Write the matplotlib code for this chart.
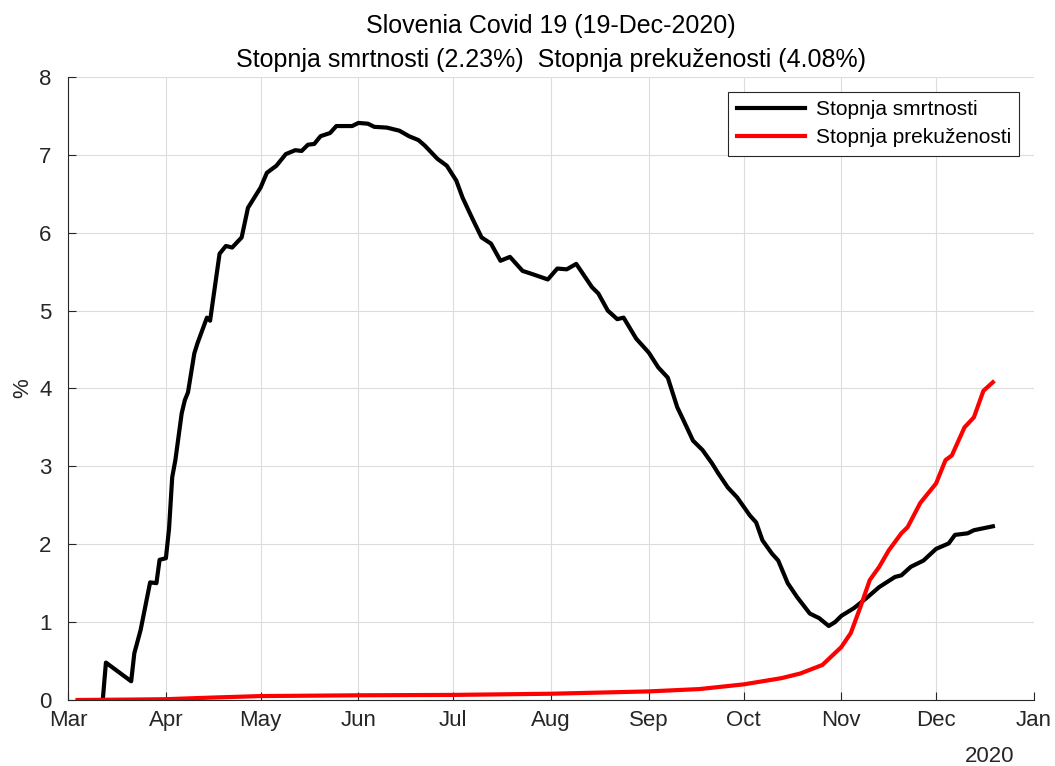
import numpy as np
import pandas as pd
import matplotlib
matplotlib.use('Agg')
import matplotlib.pyplot as plt
import matplotlib.dates as mdates
import matplotlib.transforms as mtransforms

plt.rcParams['font.family'] = ['Liberation Sans', 'DejaVu Sans']

# stopnja smrtnosti (deaths / cases, %)
mort_dates = ['2020-03-12', '2020-03-13', '2020-03-21', '2020-03-22', '2020-03-24',
              '2020-03-27', '2020-03-29', '2020-03-30', '2020-04-01', '2020-04-02',
              '2020-04-03', '2020-04-04', '2020-04-06', '2020-04-07', '2020-04-08',
              '2020-04-10', '2020-04-11', '2020-04-14', '2020-04-15', '2020-04-18',
              '2020-04-20', '2020-04-22', '2020-04-25', '2020-04-27', '2020-05-01',
              '2020-05-03', '2020-05-06', '2020-05-09', '2020-05-12', '2020-05-14',
              '2020-05-16', '2020-05-18', '2020-05-20', '2020-05-23', '2020-05-25',
              '2020-05-30', '2020-06-01', '2020-06-04', '2020-06-06', '2020-06-10',
              '2020-06-14', '2020-06-17', '2020-06-20', '2020-06-22', '2020-06-26',
              '2020-06-29', '2020-07-02', '2020-07-04', '2020-07-07', '2020-07-10',
              '2020-07-13', '2020-07-16', '2020-07-19', '2020-07-23', '2020-07-26',
              '2020-07-31', '2020-08-03', '2020-08-06', '2020-08-09', '2020-08-14',
              '2020-08-16', '2020-08-19', '2020-08-22', '2020-08-24', '2020-08-28',
              '2020-09-01', '2020-09-04', '2020-09-07', '2020-09-10', '2020-09-12',
              '2020-09-15', '2020-09-18', '2020-09-21', '2020-09-23', '2020-09-26',
              '2020-09-29', '2020-10-03', '2020-10-05', '2020-10-07', '2020-10-10',
              '2020-10-12', '2020-10-15', '2020-10-18', '2020-10-22', '2020-10-25',
              '2020-10-28', '2020-10-30', '2020-11-01', '2020-11-05', '2020-11-09',
              '2020-11-13', '2020-11-18', '2020-11-20', '2020-11-23', '2020-11-27',
              '2020-12-01', '2020-12-05', '2020-12-07', '2020-12-11', '2020-12-13',
              '2020-12-19']
mort_vals = [0.0, 0.48, 0.24, 0.60, 0.90,
             1.51, 1.50, 1.80, 1.82, 2.20,
             2.86, 3.08, 3.68, 3.85, 3.95,
             4.45, 4.58, 4.91, 4.87, 5.73,
             5.83, 5.81, 5.94, 6.32, 6.58,
             6.77, 6.86, 7.01, 7.06, 7.05,
             7.13, 7.14, 7.24, 7.28, 7.37,
             7.37, 7.41, 7.40, 7.36, 7.35,
             7.31, 7.24, 7.19, 7.12, 6.95,
             6.86, 6.67, 6.45, 6.19, 5.94,
             5.86, 5.64, 5.69, 5.51, 5.47,
             5.40, 5.54, 5.53, 5.60, 5.30,
             5.22, 5.00, 4.89, 4.91, 4.64,
             4.46, 4.27, 4.14, 3.76, 3.59,
             3.33, 3.21, 3.04, 2.91, 2.73,
             2.60, 2.37, 2.28, 2.05, 1.88,
             1.79, 1.50, 1.32, 1.11, 1.05,
             0.95, 1.00, 1.08, 1.18, 1.31,
             1.45, 1.58, 1.60, 1.71, 1.79,
             1.94, 2.01, 2.12, 2.14, 2.18,
             2.23]

# stopnja prekuzenosti (cases / population, %)
inf_dates = ['2020-03-04', '2020-03-20', '2020-04-01', '2020-04-15', '2020-05-01',
             '2020-06-01', '2020-07-01', '2020-08-01', '2020-09-01', '2020-09-17',
             '2020-10-01', '2020-10-13', '2020-10-19', '2020-10-26', '2020-11-01',
             '2020-11-04', '2020-11-07', '2020-11-10', '2020-11-13', '2020-11-16',
             '2020-11-20', '2020-11-22', '2020-11-26', '2020-11-28', '2020-12-01',
             '2020-12-04', '2020-12-06', '2020-12-10', '2020-12-13', '2020-12-16',
             '2020-12-19']
inf_vals = [0.0, 0.005, 0.01, 0.03, 0.05,
            0.06, 0.065, 0.08, 0.11, 0.14,
            0.20, 0.28, 0.34, 0.45, 0.68,
            0.86, 1.19, 1.54, 1.71, 1.92,
            2.14, 2.22, 2.53, 2.63, 2.78,
            3.08, 3.14, 3.50, 3.63, 3.97,
            4.08]

month_ticks = ['2020-03-01', '2020-04-01', '2020-05-01', '2020-06-01', '2020-07-01',
               '2020-08-01', '2020-09-01', '2020-10-01', '2020-11-01', '2020-12-01',
               '2021-01-01']

axc = '#262626'

fig = plt.figure(figsize=(10.55, 7.66), dpi=100)
ax = fig.add_axes([0.0645, 0.0862, 0.9155, 0.8133])

ax.plot(pd.to_datetime(mort_dates), mort_vals, color='black', lw=3,
        label='Stopnja smrtnosti')
ax.plot(pd.to_datetime(inf_dates), inf_vals, color='red', lw=3,
        label='Stopnja prekuženosti')

ticks = pd.to_datetime(month_ticks)
ax.set_xlim(ticks[0], ticks[-1])
ax.set_ylim(0, 8)
ax.set_xticks(ticks)
ax.xaxis.set_major_formatter(mdates.DateFormatter('%b'))
ax.set_yticks(range(0, 9))

ax.grid(True, color='#dcdcdc', lw=0.8)
ax.set_axisbelow(True)
for s in ['top', 'right']:
    ax.spines[s].set_visible(False)
for s in ['left', 'bottom']:
    ax.spines[s].set_color(axc)
    ax.spines[s].set_linewidth(0.8)
ax.tick_params(direction='in', length=6, colors=axc, labelsize=16, width=0.8)
ax.tick_params(axis='x', pad=7)
ax.tick_params(axis='y', pad=12)

ax.set_ylabel('%', fontsize=16, color=axc, labelpad=4)
trans = mtransforms.blended_transform_factory(ax.transAxes, ax.transData)
ax.text(0.954, -0.72, '2020', ha='center', va='center', fontsize=16,
        color=axc, transform=trans)

ax.set_title('Slovenia Covid 19 (19-Dec-2020)\n'
             'Stopnja smrtnosti (2.23%)  Stopnja prekuženosti (4.08%)',
             fontsize=18, color='black', pad=7, linespacing=1.55)

leg = ax.legend(loc='upper right', fontsize=15, fancybox=False, framealpha=1,
                edgecolor=axc, handlelength=3.3, borderaxespad=0.7,
                labelspacing=0.45, borderpad=0.4, handletextpad=0.5)
leg.get_frame().set_linewidth(0.8)

fig.savefig('out.png', dpi=100)
